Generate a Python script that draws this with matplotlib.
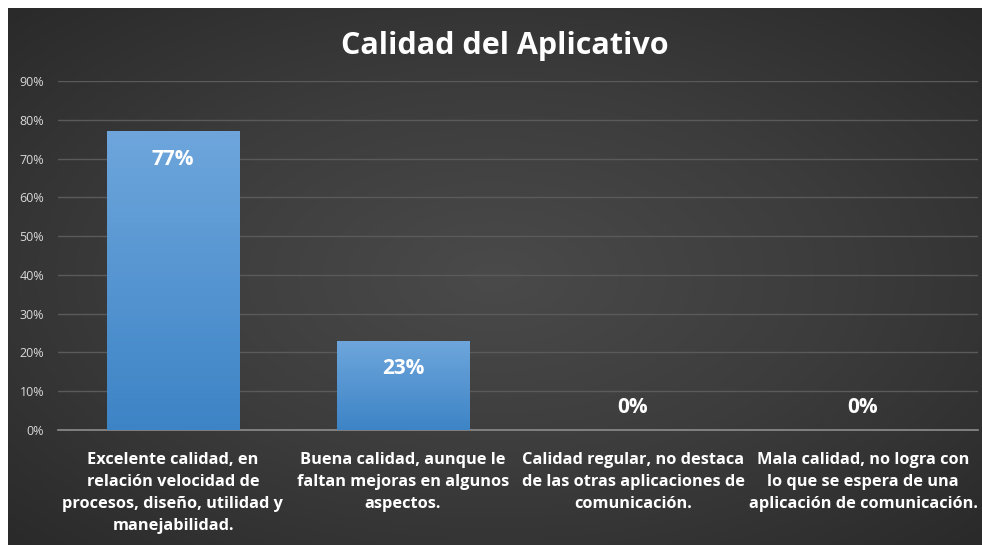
import numpy as np
import matplotlib.pyplot as plt
from matplotlib.colors import LinearSegmentedColormap

categories = [
    "Excelente calidad, en\nrelación velocidad de\nprocesos, diseño, utilidad y\nmanejabilidad.",
    "Buena calidad, aunque le\nfaltan mejoras en algunos\naspectos.",
    "Calidad regular, no destaca\nde las otras aplicaciones de\ncomunicación.",
    "Mala calidad, no logra con\nlo que se espera de una\naplicación de comunicación.",
]
values = [0.77, 0.23, 0.0, 0.0]
value_labels = ["77%", "23%", "0%", "0%"]
yticks = [0, 0.1, 0.2, 0.3, 0.4, 0.5, 0.6, 0.7, 0.8, 0.9]

FONT = "Open Sans"

W, H = 982, 545
fig = plt.figure(figsize=(W / 100, H / 100), dpi=100)
fig.patch.set_facecolor("white")

# dark radial gradient background (chart area)
bg = fig.add_axes([8 / W, 0, (W - 8) / W, (H - 8) / H])
bg.set_axis_off()
yy, xx = np.mgrid[-1:1:300j, -1:1:540j]
r = np.sqrt(xx ** 2 + yy ** 2) / np.sqrt(2)
bg_cmap = LinearSegmentedColormap.from_list("bg", ["#4a4a4a", "#3c3c3c", "#2a2a2a"])
bg.imshow(r, cmap=bg_cmap, aspect="auto", extent=[0, 1, 0, 1], vmin=0, vmax=1)
bg.set_xlim(0, 1)
bg.set_ylim(0, 1)

ax = fig.add_axes([58 / W, 1 - 430 / H, 920 / W, (430 - 81) / H])
ax.patch.set_alpha(0)
x = np.arange(len(categories))

bar_cmap = LinearSegmentedColormap.from_list("bar", ["#3d84c6", "#6ea6dc"])
grad = np.linspace(0, 1, 256).reshape(-1, 1)
bars = ax.bar(x, values, width=0.575, color="#5b9bd5", zorder=3)
for b in bars:
    if b.get_height() <= 0:
        continue
    x0, y0 = b.get_x(), b.get_y()
    im = ax.imshow(grad, cmap=bar_cmap, origin="lower", aspect="auto",
                   extent=[x0, x0 + b.get_width(), y0, y0 + b.get_height()], zorder=4)
    im.set_clip_path(b)
    b.set_edgecolor("#3a6fa0")
    b.set_linewidth(0.6)
ax.set_xlim(-0.5, len(categories) - 0.5)
ax.set_ylim(0, 0.9)

for xi, v, lab in zip(x, values, value_labels):
    off = -20 if v > 0.05 else 16
    ax.annotate(lab, (xi, v), xytext=(0, off), textcoords="offset points",
                ha="center", va="center", color="white", fontsize=15,
                fontweight="bold", family=FONT, zorder=5)

ax.set_yticks(yticks)
ax.set_yticklabels([f"{int(round(t * 100))}%" for t in yticks])
ax.yaxis.grid(True, color="#5a5a5a", linewidth=1, zorder=0)
ax.set_axisbelow(True)
ax.tick_params(axis="y", length=0, colors="#d9d9d9", labelsize=9, pad=10)
for lbl in ax.get_yticklabels():
    lbl.set_family(FONT)

ax.set_xticks(x)
ax.set_xticklabels(categories, color="white", fontsize=11.8, fontweight="bold",
                   family=FONT, linespacing=1.5)
ax.tick_params(axis="x", length=0, pad=16)

for s in ["top", "right", "left"]:
    ax.spines[s].set_visible(False)
ax.spines["bottom"].set_color("#8c8c8c")
ax.spines["bottom"].set_linewidth(1.2)

fig.text(505 / W, 1 - 46 / H, "Calidad del Aplicativo", ha="center", va="center",
         color="white", fontsize=22, fontweight="bold", family=FONT)

fig.savefig("out.png", dpi=100)
